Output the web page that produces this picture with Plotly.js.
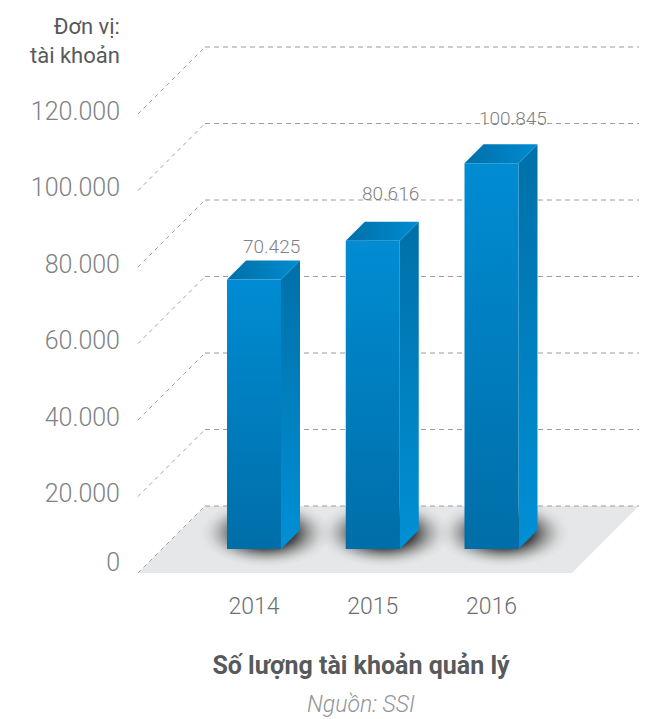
<!DOCTYPE html>
<html>
<head>
<meta charset="utf-8">
<script src="https://cdn.plot.ly/plotly-3.0.1.min.js"></script>
<style>html,body{margin:0;padding:0;background:#fff}#chart{width:662px;height:719px}</style>
</head>
<body>
<div id="chart"></div>
<script>
// ---- data ----
var years = [2014, 2015, 2016];
var accounts = [70425, 80616, 100845];
var valueLabels = ['70.425', '80.616', '100.845'];
var yTickValues = [0, 20000, 40000, 60000, 80000, 100000, 120000];
var yTickLabels = ['0', '20.000', '40.000', '60.000', '80.000', '100.000', '120.000'];
var chartTitle = 'Số lượng tài khoản quản lý';
var sourceNote = 'Nguồn: SSI';
var unitNote = 'Đơn vị:<br>tài khoản';

// ---- geometry (axis units) ----
var PX_X = 118.75, PX_Y = 76.5 / 20000;        // pixels per year, pixels per account
var L = 125, B = 129, H = 719, W = 662, BASE = 549, CX0 = 254;
var xRange = [years[0] - (CX0 - L) / PX_X, years[0] + (W - CX0) / PX_X];
var yRange = [(BASE - (H - B)) / PX_Y, BASE / PX_Y];
var dxPx = function (p) { return p / PX_X; }, dyPx = function (p) { return p / PX_Y; };
var halfBar = dxPx(27), barDX = dxPx(19), barDY = dyPx(19);
var floorFrontY = -dyPx(24), floorBackY = dyPx(43);
var floorLeftX = years[0] - dxPx(116), floorDX = dxPx(67), floorW = dxPx(434);
var labelAxisShift = dyPx(21);
// where each tick label sits on its own axis ("0" is set slightly higher than the others)
var yTickPositions = yTickValues.map(function (v) { return v === 0 ? dyPx(8) : v; });
var labelDX = [17, 18, 21], labelDY = [14.5, 28, 26];

var GRID = '#9a9c9f', GRID2 = '#9fa1a4';
var traces = [];
function poly(xs, ys, extra) {
  var t = {x: xs.concat(xs[0]), y: ys.concat(ys[0]), mode: 'lines', fill: 'toself',
    line: {width: 0}, hoverinfo: 'skip', showlegend: false};
  for (var k in extra) t[k] = extra[k];
  traces.push(t);
}
function vGrad(c0, c1, type) {
  return {fillgradient: {type: type, colorscale: [[0, c0], [1, c1]]}};
}

// floor
poly([floorLeftX, floorLeftX + floorDX, floorLeftX + floorDX + floorW, floorLeftX + floorW],
     [floorFrontY, floorBackY, floorBackY, floorFrontY], {fillcolor: '#e6e7e8'});

// grid: diagonal on the left wall + horizontal on the back wall
yTickValues.forEach(function (v) {
  traces.push({x: [floorLeftX, floorLeftX + floorDX], y: [v + floorFrontY, v + floorBackY],
    mode: 'lines', line: {color: GRID2, width: 1, dash: '4px,4px'}, hoverinfo: 'skip', showlegend: false});
  traces.push({x: [floorLeftX + floorDX, floorLeftX + floorDX + floorW], y: [v + floorBackY, v + floorBackY],
    mode: 'lines', line: {color: GRID, width: 1, dash: '5px,4px'}, hoverinfo: 'skip', showlegend: false});
});

// soft shadows below each bar
years.forEach(function (yr) {
  var cx = yr + dxPx(12), cy = dyPx(16), rx = dxPx(66), ry = dyPx(34), xs = [], ys = [];
  for (var i = 0; i < 60; i++) {
    xs.push(cx + rx * Math.cos(i / 60 * 2 * Math.PI));
    ys.push(cy + ry * Math.sin(i / 60 * 2 * Math.PI));
  }
  poly(xs, ys, {fillgradient: {type: 'radial', colorscale: [
    [0, 'rgba(20,20,20,0.9)'], [0.45, 'rgba(30,30,30,0.8)'], [0.65, 'rgba(60,60,60,0.42)'], [0.85, 'rgba(110,110,110,0.12)'], [1, 'rgba(150,150,150,0)']]}});
});

// 3D bars
years.forEach(function (yr, i) {
  var v = accounts[i], x0 = yr - halfBar, x1 = yr + halfBar;
  // side
  poly([x1, x1 + barDX, x1 + barDX, x1], [0, barDY, v + barDY, v], vGrad('#0090d6', '#0070a8', 'vertical'));
  // top
  poly([x0, x1, x1 + barDX, x0 + barDX], [v, v, v + barDY, v + barDY], vGrad('#006fa8', '#008cd2', 'horizontal'));
  // front
  poly([x0, x1, x1, x0], [0, 0, v, v], vGrad('#006ea8', '#008cd3', 'vertical'));
});

// dummy trace that keeps the tick-label axis alive
traces.push({x: [null], y: [null], yaxis: 'y2', mode: 'markers', showlegend: false, hoverinfo: 'skip'});

var annotations = years.map(function (yr, i) {
  return {x: yr, y: accounts[i] + barDY, text: valueLabels[i], showarrow: false,
    xshift: labelDX[i], yshift: labelDY[i], yanchor: 'middle',
    font: {family: 'Roboto', size: 19, weight: 300, color: '#808285'}};
});
annotations.push({xref: 'paper', yref: 'paper', x: (122 - L) / (W - L), y: 1 - 41 / (H - B), text: unitNote,
  showarrow: false, xanchor: 'right', yanchor: 'middle', align: 'right',
  font: {family: 'Roboto', size: 22, weight: 400, color: '#58595b'}});
annotations.push({xref: 'paper', yref: 'paper', x: (361 - L) / (W - L), y: 1 - 704 / (H - B), text: '<i>' + sourceNote + '</i>',
  showarrow: false, xanchor: 'center', yanchor: 'middle',
  font: {family: 'Roboto', size: 23, weight: 300, color: '#939598'}});

var layout = {
  width: W, height: H, margin: {l: L, r: 0, t: 0, b: B},
  paper_bgcolor: '#fff', plot_bgcolor: 'rgba(0,0,0,0)', showlegend: false, hovermode: false,
  title: {text: chartTitle, x: 361 / W, xref: 'container', xanchor: 'center', y: 1 - 665 / H, yref: 'container', yanchor: 'middle',
    font: {family: 'Roboto', stretch: 'condensed', size: 25, weight: 700, color: '#58595b'}},
  xaxis: {range: xRange, tickmode: 'array', tickvals: years, ticktext: years.map(String), ticklen: 0,
    showgrid: false, zeroline: false, showline: false, fixedrange: true,
    tickfont: {family: 'Roboto', size: 23, weight: 300, color: '#6d6e71'}},
  yaxis: {range: yRange, visible: false, fixedrange: true},
  yaxis2: {range: [yRange[0] + labelAxisShift, yRange[1] + labelAxisShift], overlaying: 'y', side: 'left', anchor: 'x',
    tickmode: 'array', tickvals: yTickPositions, ticktext: yTickLabels, ticklen: 0, ticklabelstandoff: 4, showgrid: false, zeroline: false,
    showline: false, fixedrange: true,
    tickfont: {family: 'Roboto', size: 25, weight: 300, color: '#808285'}},
  annotations: annotations
};
Plotly.newPlot('chart', traces, layout, {displayModeBar: false, responsive: false});
</script>
</body>
</html>
